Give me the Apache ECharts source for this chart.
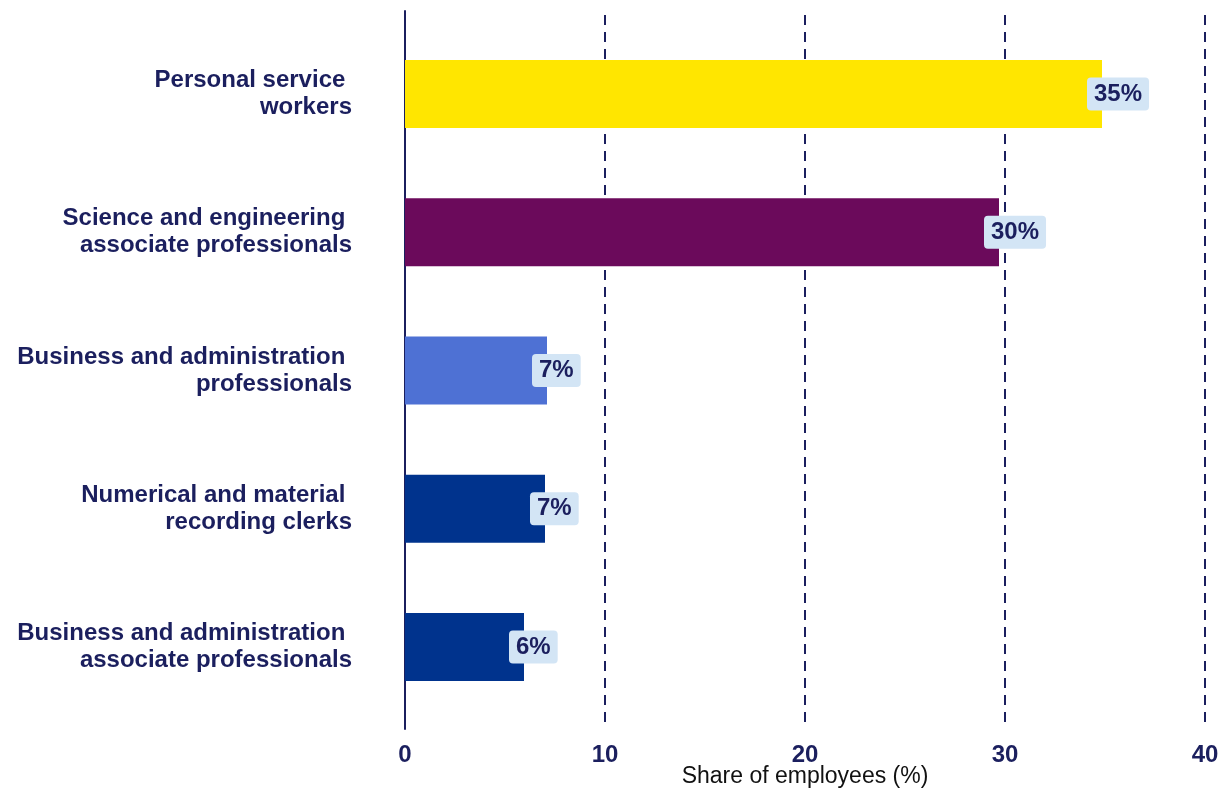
<!DOCTYPE html>
<html>
<head>
<meta charset="utf-8">
<script src="https://cdn.jsdelivr.net/npm/echarts@6/dist/echarts.min.js"></script>
<style>html,body{margin:0;padding:0;background:#fff}#c{width:1227px;height:791px}</style>
</head>
<body>
<div id="c"></div>
<script>
const categories = [
  "Personal service \nworkers",
  "Science and engineering \nassociate professionals",
  "Business and administration \nprofessionals",
  "Numerical and material \nrecording clerks",
  "Business and administration \nassociate professionals"
];
const values = [34.85, 29.7, 7.1, 7.0, 5.95];
const barColors = ["#FFE600", "#6B0A5B", "#4E71D4", "#00338D", "#00338D"];
const xTicks = [0, 10, 20, 30, 40];

const navy = "#1B1F5E";
const font = "Liberation Sans, Arial, sans-serif";
const chart = echarts.init(document.getElementById('c'));
chart.setOption({
  animation: false,
  grid: [
    {left: 405, right: 22, top: 11, bottom: 62, outerBoundsMode: 'none', containLabel: false},
    {left: 405, right: 22, top: 25, bottom: 75, outerBoundsMode: 'none', containLabel: false}
  ],
  xAxis: [
    {
      type: 'value', gridIndex: 0, min: xTicks[0], max: xTicks[xTicks.length - 1], interval: 10,
      axisLine: {show: false}, axisTick: {show: false},
      splitLine: {show: true, lineStyle: {color: navy, width: 2, type: [10, 7], dashOffset: -4}},
      axisLabel: {color: navy, fontFamily: font, fontWeight: 'bold', fontSize: 24, margin: 14},
      name: 'Share of employees (%)', nameLocation: 'middle', nameGap: 48, nameMoveOverlap: false,
      nameTextStyle: {color: '#111', fontFamily: font, fontSize: 23, verticalAlign: 'middle'}
    },
    {
      type: 'value', gridIndex: 1, min: xTicks[0], max: xTicks[xTicks.length - 1], show: false
    }
  ],
  yAxis: [
    {
      type: 'value', gridIndex: 0, min: 0, max: 1,
      axisLine: {show: true, onZero: false, lineStyle: {color: navy, width: 2}},
      axisTick: {show: false}, axisLabel: {show: false}, splitLine: {show: false}
    },
    {
      type: 'category', gridIndex: 1, data: categories, inverse: true,
      axisLine: {show: false}, axisTick: {show: false},
      axisLabel: {color: navy, fontFamily: font, fontWeight: 'bold', fontSize: 24, lineHeight: 27, margin: 53, align: 'right'}
    }
  ],
  series: [{
    type: 'bar', xAxisIndex: 1, yAxisIndex: 1, barWidth: 68,
    data: values.map((v, i) => ({value: v, itemStyle: {color: barColors[i]}})),
    label: {
      show: true, position: 'right', distance: 0, offset: [-15, 0],
      formatter: p => Math.round(p.value) + '%',
      color: navy, fontFamily: font, fontWeight: 'bold', fontSize: 24,
      backgroundColor: '#D3E5F5', borderRadius: 4, padding: [5, 7, 4, 7]
    }
  }]
});
</script>
</body>
</html>
